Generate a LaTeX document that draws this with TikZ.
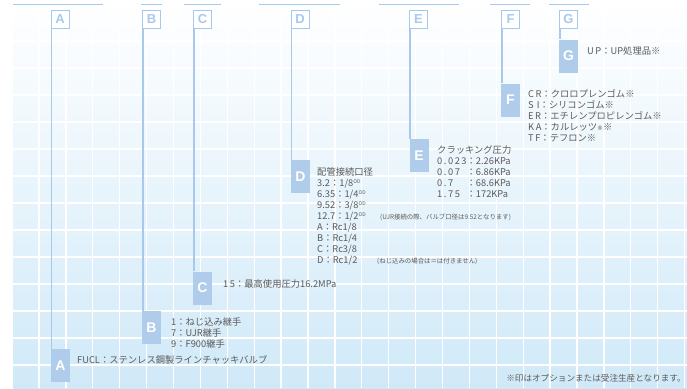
\documentclass[tikz,border=0pt]{standalone}
\usepackage{fontspec}
\setmainfont{Noto Sans CJK JP}
\newfontfamily\lblfont{Liberation Sans}
\newfontfamily\dvfont{DejaVu Sans}
\definecolor{lineblue}{HTML}{A9C9EC}
\definecolor{boxblue}{HTML}{AFCDEB}
\definecolor{txtgray}{HTML}{5A5A5A}
\definecolor{bgmid}{HTML}{E0F0FA}
\definecolor{bgblue}{HTML}{D0E9F8}
\newcommand{\odsup}{\smash{\raisebox{3.5pt}{\fontsize{5}{5}\selectfont OD}}}
\begin{document}
\begin{tikzpicture}[x=1pt,y=-1pt,
  gridline/.style={white,line width=1.3pt},
  topline/.style={lineblue,line width=0.9pt},
  vline/.style={lineblue,line width=1.5pt},
  hbox/.style={draw=lineblue,fill=white,line width=0.9pt,minimum width=18pt,minimum height=18pt,inner sep=0pt,text=lineblue,font=\lblfont\bfseries\fontsize{13}{13}\selectfont},
  fbox/.style={fill=boxblue,minimum width=19pt,minimum height=33pt,inner sep=0pt,text=white,font=\lblfont\bfseries\fontsize{14}{14}\selectfont},
  txt/.style={anchor=base west,inner sep=0pt,text=txtgray,font=\fontsize{9.3}{11}\selectfont},
  small/.style={anchor=base west,inner sep=0pt,text=txtgray,font=\fontsize{6.4}{7}\selectfont}]
\useasboundingbox (0,0) rectangle (687,388);
\shade[top color=white,middle color=bgmid,bottom color=bgblue] (13,0) rectangle (687,388);
\foreach \k in {0,...,24} \draw[gridline] ({39+26.9*\k},0) -- ({39+26.9*\k},388);
\foreach \y in {14,41,...,365} \draw[gridline] (13,\y) -- (687,\y);
% top lines
\draw[topline] (13,4) -- (103,4);
\draw[topline] (141,4) -- (162,4);
\draw[topline] (184,4) -- (221,4);
\draw[topline] (259,4) -- (340,4);
\draw[topline] (379,4) -- (459,4);
\draw[topline] (490,4) -- (530,4);
\draw[topline] (549,4) -- (589,4);
% header boxes
\node[hbox] (hA) at (60,19) {A};
\node[hbox] (hB) at (151.5,19) {B};
\node[hbox] (hC) at (202.5,19) {C};
\node[hbox] (hD) at (300,19) {D};
\node[hbox] (hE) at (418.5,19) {E};
\node[hbox] (hF) at (510.5,19) {F};
\node[hbox] (hG) at (568.5,19) {G};
% filled boxes
\node[fbox] (fA) at (60.5,365.5) {A};
\node[fbox] (fB) at (151.5,327.5) {B};
\node[fbox] (fC) at (202.5,288) {C};
\node[fbox] (fD) at (300.5,176.5) {D};
\node[fbox] (fE) at (419,155.5) {E};
\node[fbox] (fF) at (510.5,100) {F};
\node[fbox] (fG) at (568.5,56) {G};
% connectors
\foreach \k in {A,B,C,D,E,F,G}
  \draw[vline] ([xshift=0.75pt]h\k.south west) -- ([xshift=0.75pt]h\k.south west |- f\k.north);
% texts
\node[txt] (tA) at (77,363.5) {FUCL：ステンレス鋼製ラインチャッキバルブ};
\node[txt] (tB) at (171,325.5) {\begin{tabular}[t]{@{}l@{}}1：ねじ込み継手\\7：UJR継手\\9：F900継手\end{tabular}};
\node[txt] (tC) at (223,287.5) {1\,5：最高使用圧力16.2MPa};
\node[txt] (tD) at (317,175.5) {\begin{tabular}[t]{@{}l@{}}配管接続口径\\
3.2：1/8\odsup\\
6.35：1/4\odsup\\
9.52：3/8\odsup\\
12.7：1/2\odsup\\
A：Rc1/8\\
B：Rc1/4\\
C：Rc3/8\\
D：Rc1/2\end{tabular}};
\node[small] (nD1) at (380,219.5) {(UJR接続の際、バルブ口径は9.52となります)};
\node[small] (nD2) at (377,263.5) {(ねじ込みの場合は＝は付きません)};
\node[txt] (tE) at (437,153.5) {\begin{tabular}[t]{@{}l@{}l@{}}\multicolumn{2}{@{}l@{}}{クラッキング圧力}\\
0\,.\,0\,2\,3&：2.26KPa\\
0\,.\,0\,7&：6.86KPa\\
0\,.\,7&：68.6KPa\\
1\,.\,7\,5&：172KPa\end{tabular}};
\node[txt] (tF) at (528,97.5) {\begin{tabular}[t]{@{}l@{}}C\,R：クロロプレンゴム※\\
S\,\,I：シリコンゴム※\\
E\,R：エチレンプロピレンゴム※\\
K\,A：カルレッツ{\dvfont\fontsize{6}{6}\selectfont ®}※\\
T\,F：テフロン※\end{tabular}};
\node[txt] (tG) at (587,54.5) {U\,P：UP処理品※};
\node[txt,anchor=base east,font=\fontsize{8.6}{10}\selectfont] (foot) at (686,381.5) {※印はオプションまたは受注生産となります。};
\end{tikzpicture}
\end{document}
